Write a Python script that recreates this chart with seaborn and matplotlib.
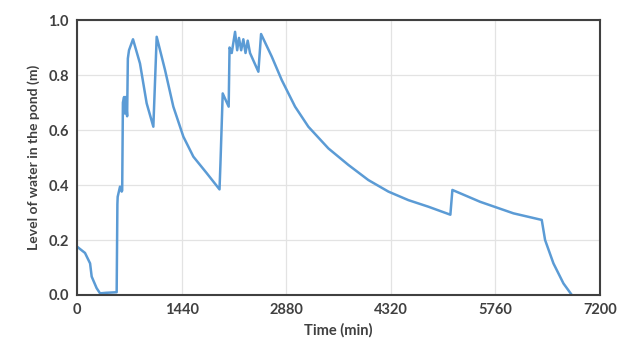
import matplotlib
matplotlib.use("Agg")
import matplotlib.pyplot as plt
import seaborn as sns
import pandas as pd

time_min = [0, 110, 180, 202, 270, 317, 400, 546, 556, 560, 592, 615, 622, 632, 648, 660, 672, 690, 700, 716, 771,
            867, 959, 1051, 1097, 1212, 1326, 1464, 1602, 1786, 1962,
            1975, 2006, 2088, 2100, 2130, 2176, 2205, 2230, 2260, 2290, 2320, 2350, 2382, 2497, 2534,
            2681, 2818, 3002, 3185, 3461, 3736, 4011, 4287, 4562, 4838, 5140, 5168,
            5549, 6008, 6398, 6444, 6559, 6697, 6812]
level_m = [0.176, 0.153, 0.115, 0.067, 0.025, 0.006, 0.008, 0.01, 0.33, 0.357, 0.394, 0.376, 0.38, 0.70, 0.72, 0.66, 0.72, 0.65, 0.86, 0.89, 0.93,
           0.842, 0.697, 0.612, 0.939, 0.818, 0.685, 0.576, 0.503, 0.443, 0.384,
           0.48, 0.733, 0.685, 0.90, 0.88, 0.957, 0.89, 0.935, 0.89, 0.93, 0.88, 0.925, 0.88, 0.812, 0.949,
           0.867, 0.782, 0.685, 0.612, 0.533, 0.473, 0.418, 0.376, 0.345, 0.321, 0.292, 0.382,
           0.339, 0.297, 0.273, 0.2, 0.115, 0.042, 0.0]

x_ticks = [0, 1440, 2880, 4320, 5760, 7200]
y_ticks = [0.0, 0.2, 0.4, 0.6, 0.8, 1.0]

df = pd.DataFrame({"Time (min)": time_min, "Level": level_m})

sns.set_theme(style="white")
plt.rcParams['font.family'] = ['Lato', 'DejaVu Sans']

fig = plt.figure(figsize=(6.19, 3.48), dpi=100)
ax = fig.add_axes([0.1244, 0.1523, 0.8449, 0.7902])

sns.lineplot(data=df, x="Time (min)", y="Level", ax=ax, color="#5b9bd5", linewidth=1.8,
             sort=False, estimator=None)

ax.set_xlim(0, 7200)
ax.set_ylim(0, 1.0)
ax.set_xticks(x_ticks)
ax.set_yticks(y_ticks)
ax.set_yticklabels([f"{v:.1f}" for v in y_ticks])
ax.grid(True, color="#e3e3e3", linewidth=0.9)
ax.set_axisbelow(True)
for s in ax.spines.values():
    s.set_visible(True)
    s.set_color("#404040")
    s.set_linewidth(1.5)
ax.tick_params(axis="both", length=0, labelsize=10.5, colors="#404040", pad=6)
for lab in ax.get_xticklabels() + ax.get_yticklabels():
    lab.set_fontweight("bold")
ax.set_xlabel("Time (min)", fontsize=10.5, fontweight="bold", color="#404040", labelpad=4)
ax.set_ylabel("Level of water in the pond (m)", fontsize=10, fontweight="bold", color="#404040", labelpad=6)

fig.savefig("out.png", dpi=100)
